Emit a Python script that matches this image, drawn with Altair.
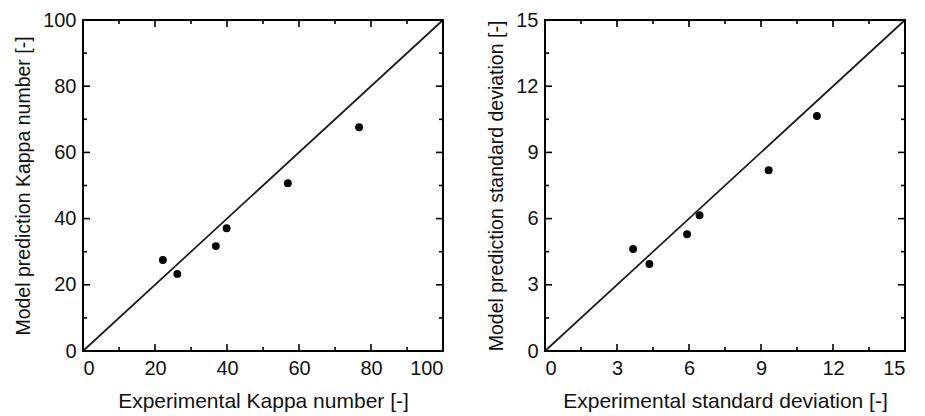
import altair as alt
import pandas as pd

# ---- data ----
kappa_exp = [22.2, 26.2, 36.9, 39.9, 56.9, 76.7]
kappa_model = [27.5, 23.3, 31.7, 37.1, 50.7, 67.6]

sd_exp = [3.67, 4.35, 5.92, 6.44, 9.32, 11.33]
sd_model = [4.62, 3.94, 5.29, 6.15, 8.19, 10.65]

kappa_major = [0, 20, 40, 60, 80, 100]
kappa_minor = [10, 30, 50, 70, 90]
sd_major = [0, 3, 6, 9, 12, 15]
sd_minor = [1.5, 4.5, 7.5, 10.5, 13.5]

kappa_range = [0, 100]
sd_range = [0, 15]

W, H = 360, 331
FONT = "Liberation Sans"


def panel(xs, ys, major, minor, rng, xtitle, ytitle):
    sc = alt.Scale(domain=rng, nice=False, zero=False)
    xax = alt.Axis(values=major, title=xtitle, format="d")
    yax = alt.Axis(values=major, title=ytitle, format="d")

    pts = pd.DataFrame({"x": xs, "y": ys})
    diag_df = pd.DataFrame({"x": rng, "y": rng})

    diag = alt.Chart(diag_df).mark_line(color="#1a1a1a", strokeWidth=1.7).encode(
        x=alt.X("x:Q", scale=sc, axis=xax, title=xtitle),
        y=alt.Y("y:Q", scale=sc, axis=yax, title=ytitle),
    )
    points = alt.Chart(pts).mark_circle(size=62, color="black", opacity=1).encode(
        x=alt.X("x:Q", scale=sc, axis=xax, title=xtitle),
        y=alt.Y("y:Q", scale=sc, axis=yax, title=ytitle),
    )

    layers = [diag, points]
    for vals, ln in ((major, 7), (minor, 4)):
        df = pd.DataFrame({"x": vals, "y": vals})
        base = alt.Chart(df).mark_rule(color="black", strokeWidth=1.6)
        layers += [
            base.encode(x=alt.X("x:Q", scale=sc, axis=xax, title=xtitle),
                        y=alt.value(H), y2=alt.value(H - ln)),
            base.encode(x=alt.X("x:Q", scale=sc, axis=xax, title=xtitle),
                        y=alt.value(0), y2=alt.value(ln)),
            base.encode(y=alt.Y("y:Q", scale=sc, axis=yax, title=ytitle),
                        x=alt.value(0), x2=alt.value(ln)),
            base.encode(y=alt.Y("y:Q", scale=sc, axis=yax, title=ytitle),
                        x=alt.value(W), x2=alt.value(W - ln)),
        ]
    return alt.layer(*layers).properties(width=W, height=H)


left = panel(kappa_exp, kappa_model, kappa_major, kappa_minor, kappa_range,
             "Experimental Kappa number [-]", "Model prediction Kappa number [-]")
right = panel(sd_exp, sd_model, sd_major, sd_minor, sd_range,
              "Experimental standard deviation [-]", "Model prediction standard deviation [-]")

chart = alt.hconcat(left, right, spacing=37).properties(
    padding={"left": 4, "right": 0, "top": 1, "bottom": 0}
).configure_view(
    stroke="black", strokeWidth=2
).configure_axis(
    grid=False, domain=False, ticks=False,
    labelFont=FONT, labelFontSize=20, labelColor="#111",
    titleFont=FONT, titleFontWeight="normal", titleColor="#111",
    labelPadding=7,
).configure_axisX(
    titleFontSize=21, titlePadding=12,
).configure_axisY(
    titleFontSize=19.5, titlePadding=9,
)

chart.save("out.html", embed_options={"renderer": "svg", "actions": False})
